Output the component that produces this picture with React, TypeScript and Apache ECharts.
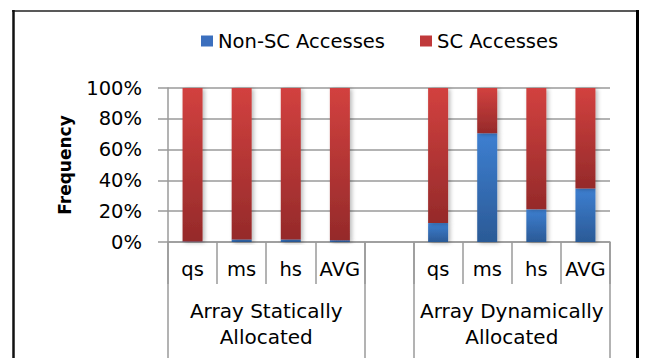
import React, { useEffect, useRef } from "react";
import * as echarts from "echarts";

// Benchmarks per allocation scheme; the empty slot separates the two groups.
const categories = ["qs", "ms", "hs", "AVG", "", "qs", "ms", "hs", "AVG"];
// Group captions sit on slot boundaries (index 2 and 7 of 10 boundary points).
const groupLabels = ["", "", "Array Statically\nAllocated", "", "", "", "", "Array Dynamically\nAllocated", "", ""];
const groupBoundaries = [0, 4, 5, 9];

const nonScAccesses = [0.3, 1.7, 1.7, 1.2, null, 12.3, 70.6, 21.2, 34.7];
const scAccesses = [99.7, 98.3, 98.3, 98.8, null, 87.7, 29.4, 78.8, 65.3];

const yMin = 0;
const yMax = 100;
const yInterval = 20;

const FONT = "DejaVu Sans";
const GRID_COLOR = "#9a9a9a";

const vGrad = (top: string, bottom: string) =>
  new echarts.graphic.LinearGradient(0, 0, 0, 1, [
    { offset: 0, color: top },
    { offset: 1, color: bottom },
  ]);

export default function App() {
  const ref = useRef<HTMLDivElement>(null);

  useEffect(() => {
    if (!ref.current) return;
    const chart = echarts.init(ref.current, null, { renderer: "svg" });
    const barShadow = {
      shadowColor: "rgba(0,0,0,0.28)",
      shadowBlur: 4,
      shadowOffsetX: 2,
      shadowOffsetY: 1,
    };
    chart.setOption({
      animation: false,
      backgroundColor: "#ffffff",
      textStyle: { fontFamily: FONT, color: "#000" },
      legend: {
        left: 196,
        top: 26,
        itemWidth: 12,
        itemHeight: 11,
        itemGap: 35,
        icon: "rect",
        textStyle: { fontFamily: FONT, fontSize: 19.5, color: "#000" },
        data: [
          { name: "Non-SC Accesses", itemStyle: { color: "#3b6fbe" } },
          { name: "SC Accesses", itemStyle: { color: "#c0393b" } },
        ],
      },
      grid: { left: 168, right: 36, top: 88, bottom: 116, containLabel: false },
      xAxis: [
        {
          type: "category",
          data: categories,
          position: "bottom",
          axisLine: { show: true, lineStyle: { color: GRID_COLOR, width: 1.5 } },
          axisTick: { show: true, interval: 0, length: 42, lineStyle: { color: GRID_COLOR, width: 1.5 } },
          axisLabel: { interval: 0, margin: 17, fontSize: 19.5, color: "#000", fontFamily: FONT },
        },
        {
          type: "category",
          data: groupLabels,
          boundaryGap: false,
          position: "bottom",
          offset: 0,
          axisLine: { show: false },
          axisTick: {
            show: true,
            interval: (i: number) => groupBoundaries.includes(i),
            length: 118,
            lineStyle: { color: GRID_COLOR, width: 1.5 },
          },
          axisLabel: {
            interval: 0,
            margin: 56,
            fontSize: 20,
            lineHeight: 26,
            color: "#000",
            fontFamily: FONT,
          },
        },
      ],
      yAxis: {
        type: "value",
        min: yMin,
        max: yMax,
        interval: yInterval,
        name: "Frequency",
        nameLocation: "middle",
        nameGap: 95,
        nameTextStyle: { fontFamily: FONT, fontSize: 17, fontWeight: "bold", color: "#000" },
        axisLine: { show: true, lineStyle: { color: GRID_COLOR, width: 1.5 } },
        axisTick: { show: true, length: 10, lineStyle: { color: GRID_COLOR, width: 1.5 } },
        axisLabel: { formatter: "{value}%", margin: 26, fontSize: 19.5, color: "#000", fontFamily: FONT },
        splitLine: { show: true, lineStyle: { color: GRID_COLOR, width: 1.5 } },
      },
      series: [
        {
          name: "Non-SC Accesses",
          type: "bar",
          stack: "total",
          barWidth: 20,
          data: nonScAccesses,
          itemStyle: { color: vGrad("#3d7fd1", "#2b5a96"), ...barShadow },
        },
        {
          name: "SC Accesses",
          type: "bar",
          stack: "total",
          barWidth: 20,
          data: scAccesses,
          itemStyle: { color: vGrad("#d2413f", "#952a2a"), ...barShadow },
        },
      ],
      graphic: [
        {
          type: "line",
          shape: { x1: 12, y1: 11, x2: 639, y2: 11 },
          style: { stroke: "#222", lineWidth: 1.5 },
          silent: true,
        },
        {
          type: "line",
          shape: { x1: 13.5, y1: 10, x2: 13.5, y2: 358 },
          style: { stroke: "#111", lineWidth: 2.5 },
          silent: true,
        },
        {
          type: "line",
          shape: { x1: 637.5, y1: 10, x2: 637.5, y2: 358 },
          style: { stroke: "#000", lineWidth: 3 },
          silent: true,
        },
      ],
    });
    return () => chart.dispose();
  }, []);

  return (
    <div
      ref={ref}
      style={{ position: "fixed", left: 0, top: 0, width: 646, height: 358 }}
    />
  );
}
